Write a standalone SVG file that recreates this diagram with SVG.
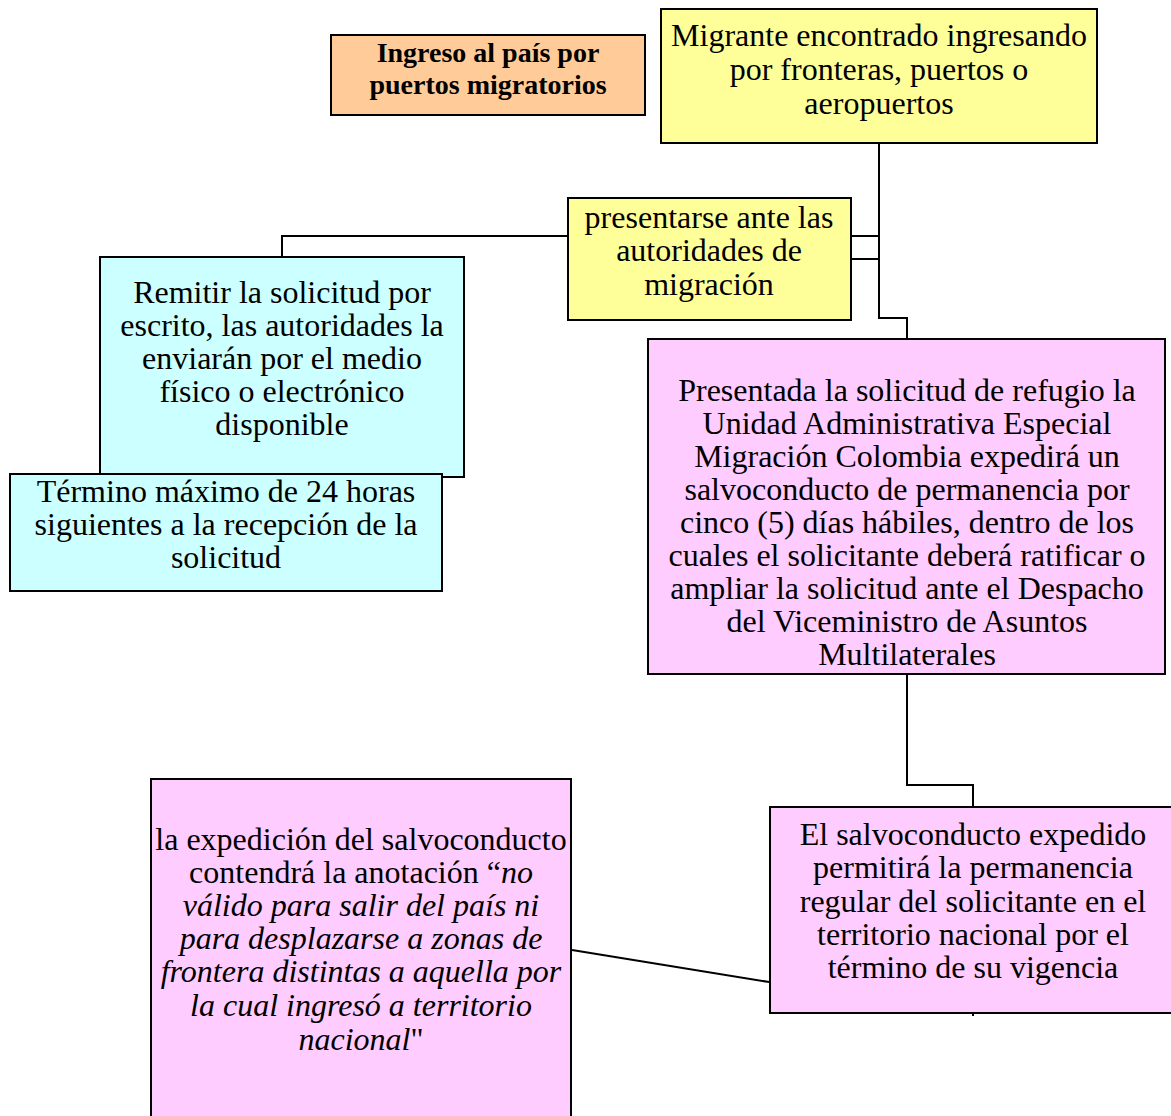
<svg xmlns="http://www.w3.org/2000/svg" width="1171" height="1116" viewBox="0 0 1171 1116">
<style>
.box{stroke:#000;stroke-width:2}
.y{fill:#FFFF99}.o{fill:#FFCC99}.c{fill:#CCFFFF}.p{fill:#FFCCFF}
text{font-family:"Liberation Serif","Times New Roman",serif;font-size:32px;fill:#000;text-anchor:middle}
.b{font-weight:bold;font-size:28px}
.conn{fill:none;stroke:#000;stroke-width:2}
</style>
<rect width="1171" height="1116" fill="#fff"/>
<g id="connectors">
<polyline class="conn" points="879,143 879,318 907,318 907,339"/>
<line class="conn" x1="851" y1="236" x2="879" y2="236"/>
<line class="conn" x1="851" y1="259" x2="879" y2="259"/>
<polyline class="conn" points="567,236 282,236 282,257"/>
<polyline class="conn" points="907,674 907,785 973,785 973,807"/>
<line class="conn" x1="973" y1="1013" x2="973" y2="1016"/>
<line class="conn" x1="572" y1="950" x2="769" y2="982"/>
</g>
<g id="n-ingreso">
<rect class="box o" x="331" y="35" width="314" height="80"/>
<text class="b" x="488" y="62">Ingreso al país por</text>
<text class="b" x="488" y="94">puertos migratorios</text>
</g>
<g id="n-migrante">
<rect class="box y" x="661" y="9" width="436" height="134"/>
<text x="879" y="46">Migrante encontrado ingresando</text>
<text x="879" y="80">por fronteras, puertos o</text>
<text x="879" y="114">aeropuertos</text>
</g>
<g id="n-presentarse">
<rect class="box y" x="568" y="198" width="283" height="122"/>
<text x="709" y="228">presentarse ante las</text>
<text x="709" y="261">autoridades de</text>
<text x="709" y="295">migración</text>
</g>
<g id="n-remitir">
<rect class="box c" x="100" y="257" width="364" height="220"/>
<text x="282" y="303">Remitir la solicitud por</text>
<text x="282" y="336">escrito, las autoridades la</text>
<text x="282" y="369">enviarán por el medio</text>
<text x="282" y="402">físico o electrónico</text>
<text x="282" y="435">disponible</text>
</g>
<g id="n-termino">
<rect class="box c" x="10" y="474" width="432" height="117"/>
<text x="226" y="502">Término máximo de 24 horas</text>
<text x="226" y="535">siguientes a la recepción de la</text>
<text x="226" y="568">solicitud</text>
</g>
<g id="n-presentada">
<rect class="box p" x="648" y="339" width="517" height="335"/>
<text x="907" y="401">Presentada la solicitud de refugio la</text>
<text x="907" y="434">Unidad Administrativa Especial</text>
<text x="907" y="467">Migración Colombia expedirá un</text>
<text x="907" y="500">salvoconducto de permanencia por</text>
<text x="907" y="533">cinco (5) días hábiles, dentro de los</text>
<text x="907" y="566">cuales el solicitante deberá ratificar o</text>
<text x="907" y="599">ampliar la solicitud ante el Despacho</text>
<text x="907" y="632">del Viceministro de Asuntos</text>
<text x="907" y="665">Multilaterales</text>
</g>
<g id="n-salvoconducto">
<rect class="box p" x="770" y="807" width="405" height="206"/>
<text x="973" y="845">El salvoconducto expedido</text>
<text x="973" y="878">permitirá la permanencia</text>
<text x="973" y="912">regular del solicitante en el</text>
<text x="973" y="945">territorio nacional por el</text>
<text x="973" y="978">término de su vigencia</text>
</g>
<g id="n-expedicion">
<rect class="box p" x="151" y="779" width="420" height="345"/>
<text x="361" y="850">la expedición del salvoconducto</text>
<text x="361" y="883">contendrá la anotación “<tspan font-style="italic">no</tspan></text>
<text x="361" y="916" font-style="italic">válido para salir del país ni</text>
<text x="361" y="949" font-style="italic">para desplazarse a zonas de</text>
<text x="361" y="982" font-style="italic">frontera distintas a aquella por</text>
<text x="361" y="1016" font-style="italic">la cual ingresó a territorio</text>
<text x="361" y="1050"><tspan font-style="italic">nacional</tspan>"</text>
</g>
</svg>
